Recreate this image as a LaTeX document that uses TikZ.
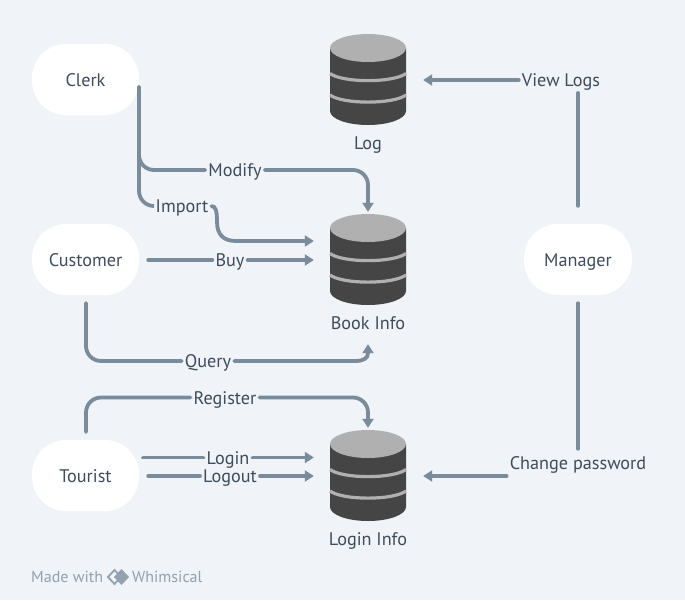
\documentclass[tikz,border=0pt]{standalone}
\usepackage{fontspec}
\setmainfont{PT Sans}
\usetikzlibrary{arrows.meta,calc}
\definecolor{bgc}{HTML}{F0F3F7}
\definecolor{linec}{HTML}{7A8B9C}
\definecolor{txtc}{HTML}{3E4C5C}
\definecolor{dbdark}{HTML}{454545}
\definecolor{dblight}{HTML}{B0B0B0}
\definecolor{markc}{HTML}{94A1AE}
\tikzset{
  actor/.style={draw=none,fill=white,rounded corners=34pt,minimum width=107pt,minimum height=71pt,inner sep=0pt,text=txtc,font=\fontsize{18.2}{20}\selectfont,text height=17.5pt,text depth=4.5pt},
  lbl/.style={text=txtc,font=\fontsize{18.2}{20}\selectfont,inner sep=3pt,text height=17.5pt,text depth=4.5pt},
  dbbox/.style={minimum width=76pt,minimum height=91pt,inner sep=0pt},
  conn/.style={draw=linec,line width=3.8pt,line cap=round,rounded corners=15pt},
  arr/.style={conn,-{Triangle[length=9pt,width=11pt]}},
  brand/.style={text=markc,font=\fontsize{16}{18}\selectfont,inner sep=0pt},
}
\newcommand{\dbshape}[1]{%
  \begin{scope}[shift={(#1)}]
    \fill[dbdark] (-38,-31.5) -- (-38,31.5) arc[x radius=38,y radius=14,start angle=180,end angle=0] -- (38,-31.5) -- cycle;
    \fill[dblight] (0,-31.5) ellipse[x radius=38,y radius=14];
    \draw[dblight,line width=3.2pt] (-38,-6) .. controls (-25,3.5) and (25,3.5) .. (38,-6);
    \draw[dblight,line width=3.2pt] (-38,15.5) .. controls (-25,25) and (25,25) .. (38,15.5);
  \end{scope}}
\begin{document}
\begin{tikzpicture}[x=1pt,y=-1pt]
\useasboundingbox[fill=bgc] (0,0) rectangle (685,600);
% actors
\node[actor] (clerk) at (85.5,79.5) {Clerk};
\node[actor] (customer) at (85.5,259.5) {Customer};
\node[actor] (tourist) at (85.5,475.5) {Tourist};
\node[actor,minimum width=108pt] (manager) at (578,259.5) {Manager};
% databases
\node[dbbox] (log) at (368,79.5) {};
\node[dbbox] (book) at (368,259.5) {};
\node[dbbox] (login) at (368,475.5) {};
\dbshape{log.center}
\dbshape{book.center}
\dbshape{login.center}
\node[lbl] (logt) at (368,143) {Log};
\node[lbl] (bookt) at (368,323) {Book Info};
\node[lbl] (logint) at (368,539) {Login Info};
% connector labels
\node[lbl] (modify) at (235,170) {Modify};
\node[lbl] (import) at (182,206) {Import};
\node[lbl] (buy) at (230,260) {Buy};
\node[lbl] (query) at (208,361) {Query};
\node[lbl] (register) at (225,397.5) {Register};
\node[lbl] (loginl) at (228,457.5) {Login};
\node[lbl] (logout) at (230,476) {Logout};
\node[lbl] (viewlogs) at (561,80) {View Logs};
\node[lbl] (changepw) at (578,463) {Change password};
% free ends
\coordinate (clerkout) at (139,87);
\coordinate (custdown) at (86,295);
\coordinate (tourup) at (86,440);
\coordinate (loginout) at (139,457.5);
% connectors
\draw[conn] (clerkout) |- (modify.west);
\draw[arr] (modify.east) -| ($(book.north)+(0,-2)$);
\draw[conn] (clerkout) |- (import.west);
\draw[arr,sharp corners] (import.east) .. controls (216,206) and (217,212) .. (217,222) .. controls (217,235) and (224,241) .. (236,241) -- ($(book.west)+(-16,-18.5)$);
\draw[conn,shorten <=9pt] (customer.east |- buy.west) -- (buy.west);
\draw[arr] (buy.east) -- ($(book.west |- buy.east)+(-16,0)$);
\draw[conn,shorten <=8pt] (custdown) |- (query.west);
\draw[arr,sharp corners] (query.east) -- (355,361) .. controls (364,361) and (368,358) .. (368,353) -- ($(bookt.south)+(0,7)$);
\draw[conn,shorten <=8pt] (tourup) |- (register.west);
\draw[arr] (register.east) -| ($(login.north)+(0,-2)$);
\draw[conn,shorten <=4pt] (loginout) -- (loginl.west);
\draw[arr] (loginl.east) -- ($(login.west |- loginl.east)+(-16,0)$);
\draw[conn,shorten <=9pt] (tourist.east |- logout.west) -- (logout.west);
\draw[arr] (logout.east) -- ($(login.west |- logout.east)+(-16,0)$);
\draw[conn,shorten <=18pt] (manager.north) -- (578,93);
\draw[arr] (viewlogs.west) -- ($(log.east |- viewlogs.west)+(17,0)$);
\draw[conn,shorten <=8pt] (manager.south) -- (changepw.north);
\draw[arr] ($(changepw.west)+(0,13)$) -- ($(login.east)+(17,0.5)$);
% brand
\node[brand,anchor=west] (made) at (31,577) {Made with};
\node[brand,anchor=west] (whim) at (132,577) {Whimsical};
\draw[markc,line width=1.8pt] (108,577) -- (114.5,570) -- (121,577) -- (114.5,584) -- cycle;
\fill[markc] (114,577) -- (121.5,569) -- (129,577) -- (121.5,585) -- cycle;
\end{tikzpicture}
\end{document}
